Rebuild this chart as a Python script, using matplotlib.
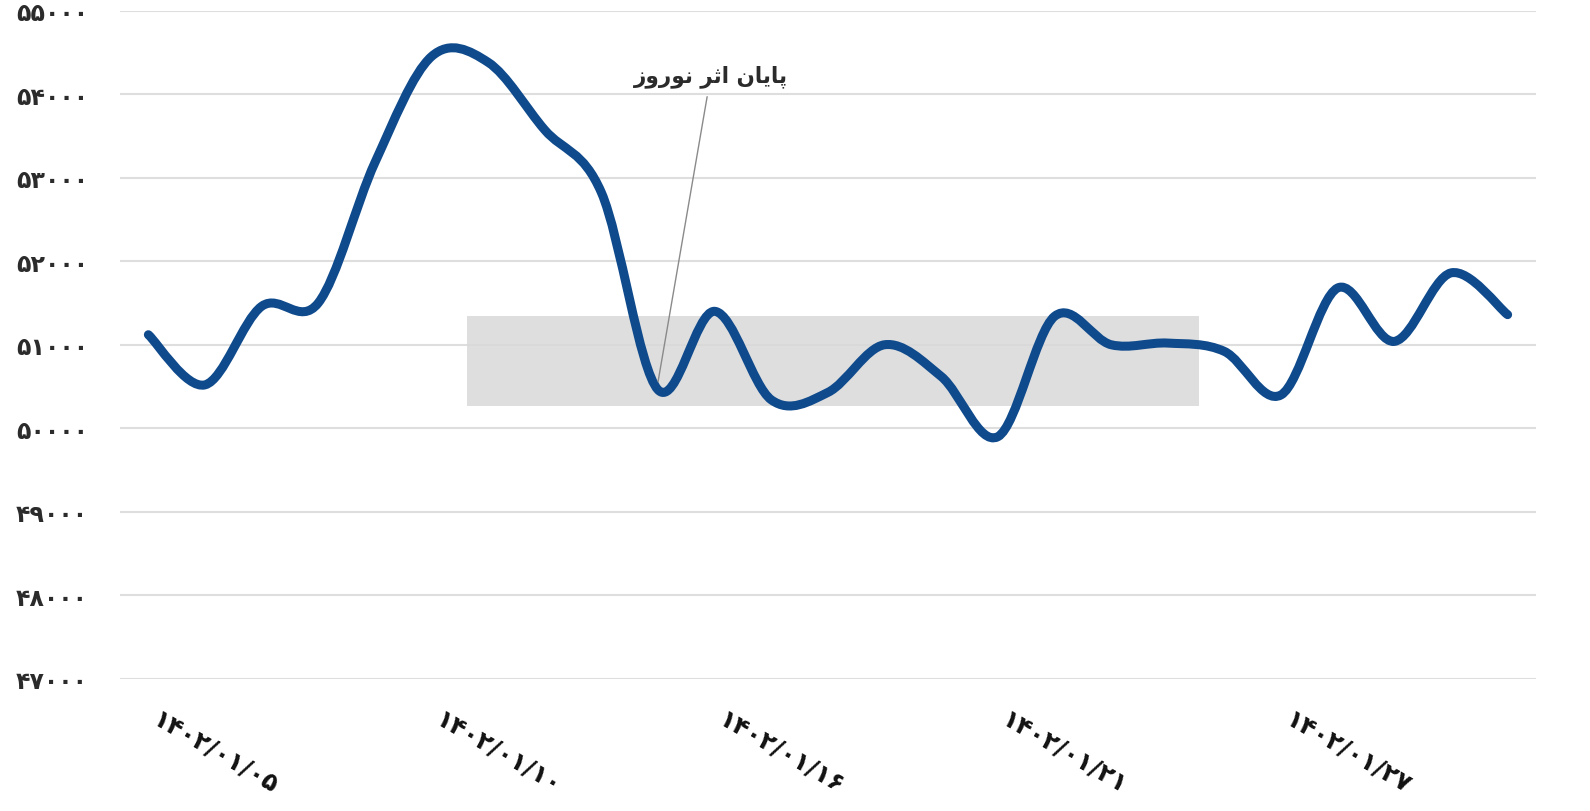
import matplotlib
matplotlib.use("Agg")
import matplotlib.pyplot as plt
from matplotlib.path import Path
from matplotlib.patches import PathPatch, Rectangle
from matplotlib.transforms import ScaledTranslation
import numpy as np

# ---- data ----
values = [51120, 50520, 51460, 51500, 53180, 54450, 54380, 53570, 52820, 50460,
          51400, 50340, 50430, 51000, 50620, 49900, 51340, 51000, 51020, 50920,
          50400, 51680, 51040, 51860, 51360]
tick_positions = [1, 6, 11, 16, 21]
tick_labels = ["۱۴۰۲/۰۱/۰۵", "۱۴۰۲/۰۱/۱۰", "۱۴۰۲/۰۱/۱۶", "۱۴۰۲/۰۱/۲۱", "۱۴۰۲/۰۱/۲۷"]
y_ticks = [47000, 48000, 49000, 50000, 51000, 52000, 53000, 54000, 55000]
y_tick_labels = ["۴۷۰۰۰", "۴۸۰۰۰", "۴۹۰۰۰", "۵۰۰۰۰", "۵۱۰۰۰", "۵۲۰۰۰", "۵۳۰۰۰", "۵۴۰۰۰", "۵۵۰۰۰"]
annot_index = 9
# "پایان اثر نوروز" in shaped presentation forms, visual (left-to-right) order
annot_text = "\uFEAF\uFEED\uFEAD\uFEEE\uFEE7 \uFEAE\uFE9B\uFE8D \uFEE5\uFE8E\uFBFE\uFE8E\uFB58"

LINE_COLOR = "#0f4a8c"
GRID_COLOR = "#dedede"
TEXT_COLOR = "#2b2b2b"

fig = plt.figure(figsize=(15.9, 8.12), dpi=100)
ax = fig.add_axes([0.0755, 0.1626, 0.8905, 0.8232])

x = np.arange(len(values), dtype=float)
y = np.array(values, dtype=float)

# smooth line (Catmull-Rom style cubic Bezier through the data points)
verts = [(x[0], y[0])]
codes = [Path.MOVETO]
n = len(x)
for i in range(n - 1):
    p0 = (x[max(i - 1, 0)], y[max(i - 1, 0)])
    p1 = (x[i], y[i])
    p2 = (x[i + 1], y[i + 1])
    p3 = (x[min(i + 2, n - 1)], y[min(i + 2, n - 1)])
    c1 = (p1[0] + (p2[0] - p0[0]) / 6.0, p1[1] + (p2[1] - p0[1]) / 6.0)
    c2 = (p2[0] - (p3[0] - p1[0]) / 6.0, p2[1] - (p3[1] - p1[1]) / 6.0)
    verts += [c1, c2, p2]
    codes += [Path.CURVE4] * 3
ax.add_patch(PathPatch(Path(verts, codes), facecolor="none", edgecolor=LINE_COLOR,
                       lw=6.5, capstyle="round", joinstyle="round", zorder=4))

# watermark band
ax.add_patch(Rectangle((0.245, 0.408), 0.517, 0.135, transform=ax.transAxes,
                       facecolor="#d9d9d9", edgecolor="none", alpha=0.85, zorder=2))

ax.set_xlim(-0.5, n - 0.5)
ax.set_ylim(47000, 55000)
ax.set_yticks(y_ticks)
ax.set_yticklabels(y_tick_labels, fontsize=17, fontweight="bold", color=TEXT_COLOR,
                   family=["DejaVu Sans"])
ax.set_xticks(tick_positions)
ax.set_xticklabels(tick_labels, rotation=-30, ha="center", va="top", fontsize=18,
                   fontweight="bold", color="#111111", family=["DejaVu Sans"])
ax.tick_params(axis="both", length=0)
ax.tick_params(axis="y", pad=23)
ax.tick_params(axis="x", pad=20)
ax.grid(axis="y", color=GRID_COLOR, lw=1.5, zorder=1)
ax.set_axisbelow(True)
for s in ax.spines.values():
    s.set_visible(False)

shift = ScaledTranslation(10 / 100, 0, fig.dpi_scale_trans)
for lbl in ax.get_xticklabels():
    lbl.set_transform(lbl.get_transform() + shift)

ax.annotate(annot_text, xy=(annot_index, values[annot_index] + 100),
            xytext=(9.93, 54220), ha="center", va="center",
            fontsize=15.5, fontweight="bold", color=TEXT_COLOR, family=["DejaVu Sans"],
            arrowprops=dict(arrowstyle="-", color="#8a8a8a", lw=1.0,
                            shrinkA=5, shrinkB=0), zorder=5)

fig.savefig("out.png", dpi=100)
